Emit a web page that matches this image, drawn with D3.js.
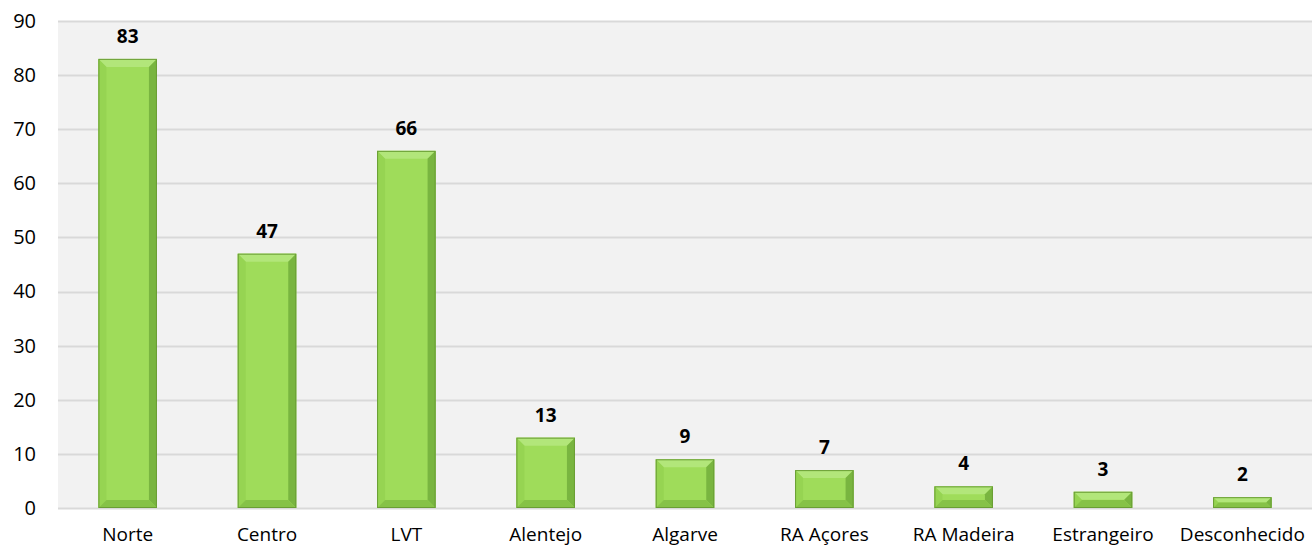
<!DOCTYPE html>
<html>
<head>
<meta charset="utf-8">
<script src="https://cdn.jsdelivr.net/npm/d3@7"></script>
<style>
  body { margin: 0; background: #fff; }
  svg { display: block; font-family: "Open Sans", sans-serif; }
</style>
</head>
<body>
<svg></svg>
<script>
const categories = ["Norte", "Centro", "LVT", "Alentejo", "Algarve", "RA Açores", "RA Madeira", "Estrangeiro", "Desconhecido"]
const values = [83, 47, 66, 13, 9, 7, 4, 3, 2]
const yTicks = [0, 10, 20, 30, 40, 50, 60, 70, 80, 90]

const width = 1313, height = 549
const margin = {top: 21, right: 1, bottom: 41, left: 58}

const svg = d3.select("svg").attr("width", width).attr("height", height)

const x = d3.scaleBand()
  .domain(categories)
  .range([margin.left, width - margin.right])
  .paddingInner(0.58)
  .paddingOuter(0.29)

const y = d3.scaleLinear()
  .domain([0, 90])
  .range([height - margin.bottom, margin.top])

// plot area background
svg.append("rect")
  .attr("x", margin.left)
  .attr("y", margin.top)
  .attr("width", width - margin.right - margin.left)
  .attr("height", y(0) - margin.top)
  .attr("fill", "#f2f2f2")

// gridlines
svg.append("g")
  .selectAll("line")
  .data(yTicks)
  .join("line")
  .attr("x1", margin.left)
  .attr("x2", width - margin.right)
  .attr("y1", d => Math.round(y(d)) + 0.5)
  .attr("y2", d => Math.round(y(d)) + 0.5)
  .attr("stroke", "#d9d9d9")
  .attr("stroke-width", 2)

// y axis labels
const yAxis = svg.append("g")
  .attr("transform", `translate(${margin.left},0)`)
  .call(d3.axisLeft(y).tickValues(yTicks).tickSize(0).tickPadding(22))
yAxis.select(".domain").remove()
yAxis.selectAll("text")
  .attr("font-family", "Open Sans, sans-serif")
  .attr("font-size", 20)
  .attr("fill", "#000")

// x axis labels
const xAxis = svg.append("g")
  .attr("transform", `translate(0,${y(0)})`)
  .call(d3.axisBottom(x).tickSize(0).tickPadding(20))
xAxis.select(".domain").remove()
xAxis.selectAll("text")
  .attr("font-family", "Open Sans, sans-serif")
  .attr("font-size", 19)
  .attr("fill", "#000")

// bevelled bars
const bev = 8
const bars = svg.append("g")
  .selectAll("g.bar")
  .data(categories.map((c, i) => ({cat: c, value: values[i]})))
  .join("g")
  .classed("bar", true)

const geom = d => {
  const x0 = x(d.cat), x1 = x0 + x.bandwidth()
  const y0 = y(d.value), y1 = y(0)
  const b = Math.min(bev, (y1 - y0) / 2)
  return {x0, x1, y0, y1, b}
}

bars.append("rect")
  .attr("x", d => geom(d).x0)
  .attr("y", d => geom(d).y0)
  .attr("width", x.bandwidth())
  .attr("height", d => geom(d).y1 - geom(d).y0)
  .attr("fill", "#9fdc5a")

// top face
bars.append("polygon")
  .attr("points", d => {
    const g = geom(d)
    return [[g.x0, g.y0], [g.x1, g.y0], [g.x1 - g.b, g.y0 + g.b], [g.x0 + g.b, g.y0 + g.b]].join(" ")
  })
  .attr("fill", "#b2e67a")

// left face
bars.append("polygon")
  .attr("points", d => {
    const g = geom(d)
    return [[g.x0, g.y0], [g.x0 + g.b, g.y0 + g.b], [g.x0 + g.b, g.y1 - g.b], [g.x0, g.y1]].join(" ")
  })
  .attr("fill", "#96d452")

// right face
bars.append("polygon")
  .attr("points", d => {
    const g = geom(d)
    return [[g.x1, g.y0], [g.x1 - g.b, g.y0 + g.b], [g.x1 - g.b, g.y1 - g.b], [g.x1, g.y1]].join(" ")
  })
  .attr("fill", "#79b540")

// bottom face
bars.append("polygon")
  .attr("points", d => {
    const g = geom(d)
    return [[g.x0, g.y1], [g.x0 + g.b, g.y1 - g.b], [g.x1 - g.b, g.y1 - g.b], [g.x1, g.y1]].join(" ")
  })
  .attr("fill", "#86c247")

bars.append("rect")
  .attr("x", d => geom(d).x0 + 0.5)
  .attr("y", d => geom(d).y0 + 0.5)
  .attr("width", x.bandwidth() - 1)
  .attr("height", d => Math.max(0, geom(d).y1 - geom(d).y0 - 1))
  .attr("fill", "none")
  .attr("stroke", "#6a9e35")
  .attr("stroke-width", 1)

// data labels
bars.append("text")
  .attr("x", d => x(d.cat) + x.bandwidth() / 2)
  .attr("y", d => y(d.value) - 16)
  .attr("text-anchor", "middle")
  .attr("font-size", 19)
  .attr("font-weight", "bold")
  .attr("fill", "#000")
  .text(d => d.value)
</script>
</body>
</html>
